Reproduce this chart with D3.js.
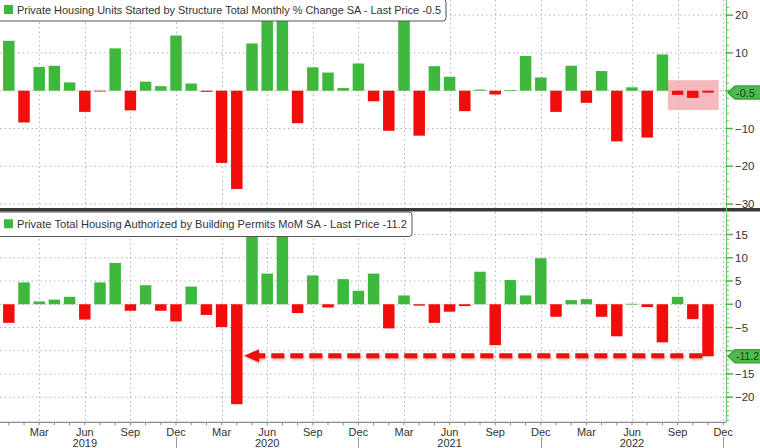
<!DOCTYPE html>
<html><head><meta charset="utf-8">
<script src="https://cdn.jsdelivr.net/npm/d3@7"></script>
<style>
html,body{margin:0;padding:0;background:#fff;}
svg{display:block;font-family:"Liberation Sans",Arial,sans-serif;}
</style></head>
<body>
<svg id="c" width="760" height="448"></svg>
<script>
// ---- data ----
const monthCount = 49;                       // Dec 2018 .. Dec 2022
const months = d3.range(monthCount).map(i => new Date(2018, 11 + i, 1));

const startsChange = [
  -7.2,
  13.2, -8.4, 6.3, 6.6, 2.2, -5.6, -0.2, 11.2, -5.2, 2.4, 1.2, 14.6,
  1.9, -0.3, -19.1, -26.0, 12.5, 21, 19.5, -8.6, 6.2, 4.8, 0.7, 7.2,
  -2.8, -10.6, 20, -11.9, 6.5, 3.7, -5.4, 0.3, -1.0, 0.2, 9.2, 3.5,
  -5.6, 6.6, -3.2, 5.2, -13.4, 0.9, -12.4, 9.6, -1.1, -1.9, -0.5,
  null
];
const permitsChange = [
  -1.0,
  -4.0, 4.7, 0.6, 1.0, 1.6, -3.3, 4.7, 8.9, -1.4, 4.1, -1.4, -3.7,
  3.8, -2.3, -4.9, -21.5, 15, 6.6, 16, -1.9, 6.2, -0.7, 5.4, 2.9,
  6.6, -5.2, 1.9, -0.3, -4.0, -1.6, -0.4, 7.0, -8.8, 5.2, 1.9, 9.9,
  -2.7, 0.9, 1.1, -2.7, -6.9, 0.1, -0.6, -8.2, 1.6, -3.2, -11.2,
  null
];
const topTicks = [20, 10, 0, -10, -20, -30];
const botTicks = [15, 10, 5, 0, -5, -10, -15, -20];
const topTitle = "Private Housing Units Started by Structure Total Monthly % Change SA - Last Price -0.5";
const botTitle = "Private Total Housing Authorized by Building Permits MoM SA - Last Price -11.2";
const topLast = -0.5, botLast = -11.2;
const monthNames = ["Jan","Feb","Mar","Apr","May","Jun","Jul","Aug","Sep","Oct","Nov","Dec"];

// ---- styles ----
const GREEN = "#3db83d", RED = "#f20d0d", GRID = "#b4b4b4", TXT = "#333";
const svg = d3.select("#c");
const W = 760, axisX = 726;
const keys = months.map(d => +d);

const x = d3.scaleBand().domain(keys).range([-14.0, 730.8]).paddingInner(0.245).paddingOuter(0.1225);
const cx = k => x(k) + x.bandwidth() / 2;

const topP = {y0: 0, y1: 208, clip: "clipTop"};
const botP = {y0: 212, y1: 422.3, clip: "clipBot"};
const yTop = d3.scaleLinear().domain([-31.03, 24]).range([topP.y1, topP.y0]);
const yBot = d3.scaleLinear().domain([-25.4, 19.85]).range([botP.y1, botP.y0]);

const defs = svg.append("defs");
defs.append("clipPath").attr("id","clipTop").append("rect").attr("x",0).attr("y",topP.y0).attr("width",axisX).attr("height",topP.y1-topP.y0);
defs.append("clipPath").attr("id","clipBot").append("rect").attr("x",0).attr("y",botP.y0).attr("width",axisX).attr("height",botP.y1-botP.y0);
const sh = defs.append("filter").attr("id","shadow").attr("x","-10%").attr("y","-50%").attr("width","120%").attr("height","200%");
sh.append("feDropShadow").attr("dx",1).attr("dy",1.5).attr("stdDeviation",1.2).attr("flood-color","#800").attr("flood-opacity",0.35);

const quarterly = keys.filter(k => [2,5,8,11].includes(new Date(k).getMonth()));
const labelled = quarterly.filter(k => new Date(k).getFullYear() >= 2019);

function panel(p, y, ticks) {
  const g = svg.append("g").attr("clip-path", `url(#${p.clip})`);
  g.selectAll("line.h").data(ticks).join("line").attr("class","h")
    .attr("x1",0).attr("x2",axisX).attr("y1",d=>y(d)).attr("y2",d=>y(d))
    .attr("stroke",GRID).attr("stroke-width",1).attr("stroke-dasharray","1.5,3");
  g.selectAll("line.v").data(quarterly).join("line").attr("class","v")
    .attr("x1",d=>Math.round(cx(d))+0.5).attr("x2",d=>Math.round(cx(d))+0.5).attr("y1",p.y0).attr("y2",p.y1)
    .attr("stroke",GRID).attr("stroke-width",1).attr("stroke-dasharray","1.5,3");
  return g;
}

function bars(g, y, values) {
  g.selectAll("rect.bar").data(keys.map((k,i)=>({k, v: values[i]})).filter(d=>d.v!==null)).join("rect").attr("class","bar")
    .attr("x",d=>x(d.k)).attr("width",x.bandwidth())
    .attr("y",d=>y(Math.max(0,d.v))).attr("height",d=>Math.max(0.8, Math.abs(y(d.v)-y(0))))
    .attr("fill",d=>d.v>=0?GREEN:RED);
}

// top panel
const gT = panel(topP, yTop, topTicks);
const hl = keys.slice(-4, -1);
gT.append("rect")
  .attr("x", x(hl[0]) - 4).attr("width", x(hl[2]) + x.bandwidth() + 5 - (x(hl[0]) - 4))
  .attr("y", yTop(2.8)).attr("height", yTop(-5.1) - yTop(2.8))
  .attr("fill", "#f4a7ae").attr("opacity", 0.8);
bars(gT, yTop, startsChange);

// bottom panel
const gB = panel(botP, yBot, botTicks);
bars(gB, yBot, permitsChange);

// dashed arrow annotation
const vals = permitsChange.filter(v => v !== null);
const iMin = permitsChange.indexOf(d3.min(vals));
const iLast = vals.length - 1;
const ay = yBot(botLast) - 0.5;
const ax0 = x(keys[iLast]);
const axTip = x(keys[iMin]) + x.bandwidth() + 1.5;
const ag = svg.append("g").attr("filter","url(#shadow)");
ag.append("line").attr("x1", ax0).attr("x2", axTip + 14).attr("y1", ay).attr("y2", ay)
  .attr("stroke", RED).attr("stroke-width", 5).attr("stroke-dasharray", "13,6");
ag.append("path").attr("d", `M${axTip},${ay} L${axTip+15},${ay-6.5} L${axTip+15},${ay+6.5} Z`).attr("fill", RED);

// divider
svg.append("rect").attr("x",0).attr("y",topP.y1).attr("width",W).attr("height",3.5).attr("fill","#3a3a3a");

// right axis
svg.append("line").attr("x1",axisX+0.5).attr("x2",axisX+0.5).attr("y1",0).attr("y2",botP.y1)
  .attr("stroke","#6cc46c").attr("stroke-width",1.2);
function rightTicks(y, ticks, minorStep, p, lastVal) {
  const g = svg.append("g");
  const dom = y.domain();
  const minor = d3.range(Math.ceil(dom[0]/minorStep)*minorStep, dom[1], minorStep).filter(v => y(v) > p.y0+1 && y(v) < p.y1-1);
  g.selectAll("line.mi").data(minor).join("line").attr("class","mi")
    .attr("x1",axisX).attr("x2",axisX+3).attr("y1",d=>y(d)).attr("y2",d=>y(d)).attr("stroke","#6cc46c");
  g.selectAll("line.ma").data(ticks).join("line").attr("class","ma")
    .attr("x1",axisX).attr("x2",axisX+7).attr("y1",d=>y(d)).attr("y2",d=>y(d)).attr("stroke","#4cb84c").attr("stroke-width",1.5);
  // labels hidden behind the last-price tag are not drawn
  const shown = ticks.filter(t => Math.abs(y(t) - y(lastVal)) > 9);
  g.selectAll("text").data(shown).join("text")
    .attr("x",axisX+9).attr("y",d=>y(d)).attr("dy","0.36em")
    .attr("font-size",11.5).attr("fill",TXT).text(d=>d<0?"\u2212"+Math.abs(d):d);
}
rightTicks(yTop, topTicks, 2, topP, topLast);
rightTicks(yBot, botTicks, 1, botP, botLast);

function tag(yv, label) {
  const g = svg.append("g");
  const h = 13, x0 = axisX + 2;
  g.append("path").attr("d", `M${x0},${yv} L${x0+7},${yv-h/2} L${W+4},${yv-h/2} L${W+4},${yv+h/2} L${x0+7},${yv+h/2} Z`)
    .attr("fill", "#4cbb4c").attr("stroke","#3aa53a").attr("stroke-linejoin","round").attr("stroke-width",1.5);
  const t = g.append("text").attr("x", x0+8).attr("y", yv).attr("dy","0.36em").attr("font-size",11).attr("fill","#1d3b1d").text(label);
  const maxW = W - (x0 + 8) - 1;
  if (t.node().getComputedTextLength() > maxW) t.attr("textLength", maxW).attr("lengthAdjust","spacingAndGlyphs");
}
tag(yTop(topLast), String(topLast));
tag(yBot(botLast), String(botLast));

// x axis
svg.append("line").attr("x1",0).attr("x2",axisX).attr("y1",botP.y1).attr("y2",botP.y1).attr("stroke","#8a8a8a").attr("stroke-width",1.2);
svg.selectAll("line.xt").data(keys).join("line").attr("class","xt")
  .attr("x1",d=>cx(d)).attr("x2",d=>cx(d)).attr("y1",botP.y1).attr("y2",botP.y1+3).attr("stroke","#8a8a8a");
svg.selectAll("text.mon").data(labelled).join("text").attr("class","mon")
  .attr("x",d=>cx(d)).attr("y",436).attr("text-anchor","middle").attr("font-size",11).attr("fill",TXT)
  .text(d=>monthNames[new Date(d).getMonth()]);
const junes = keys.filter(k => new Date(k).getMonth() === 5);
svg.selectAll("text.yr").data(junes).join("text").attr("class","yr")
  .attr("x",d=>cx(d)).attr("y",447).attr("text-anchor","middle").attr("font-size",11).attr("fill",TXT)
  .text(d=>new Date(d).getFullYear());
const decs = keys.filter(k => new Date(k).getMonth() === 11 && new Date(k).getFullYear() >= 2019);
svg.selectAll("line.ysep").data(decs).join("line").attr("class","ysep")
  .attr("x1",d=>Math.round(cx(d))+0.5).attr("x2",d=>Math.round(cx(d))+0.5).attr("y1",437).attr("y2",448).attr("stroke","#999");

// legend boxes
function legend(y0, h, w, title) {
  const g = svg.append("g");
  g.append("path").attr("d", `M-1,${y0} L${w-3},${y0} Q${w},${y0} ${w},${y0+3} L${w},${y0+h-3} Q${w},${y0+h} ${w-3},${y0+h} L-1,${y0+h}`)
    .attr("fill","#fff").attr("stroke","#555").attr("stroke-width",1);
  g.append("rect").attr("x",4).attr("y",y0+h/2-5).attr("width",9).attr("height",9).attr("fill",GREEN);
  g.append("text").attr("x",17).attr("y",y0+h/2).attr("dy","0.36em").attr("font-size",11.5).attr("fill",TXT).text(title)
    .attr("textLength", w - 22).attr("lengthAdjust","spacingAndGlyphs");
}
legend(-1, 22, 446, topTitle);
legend(212, 24.5, 412, botTitle);
</script>
</body></html>
